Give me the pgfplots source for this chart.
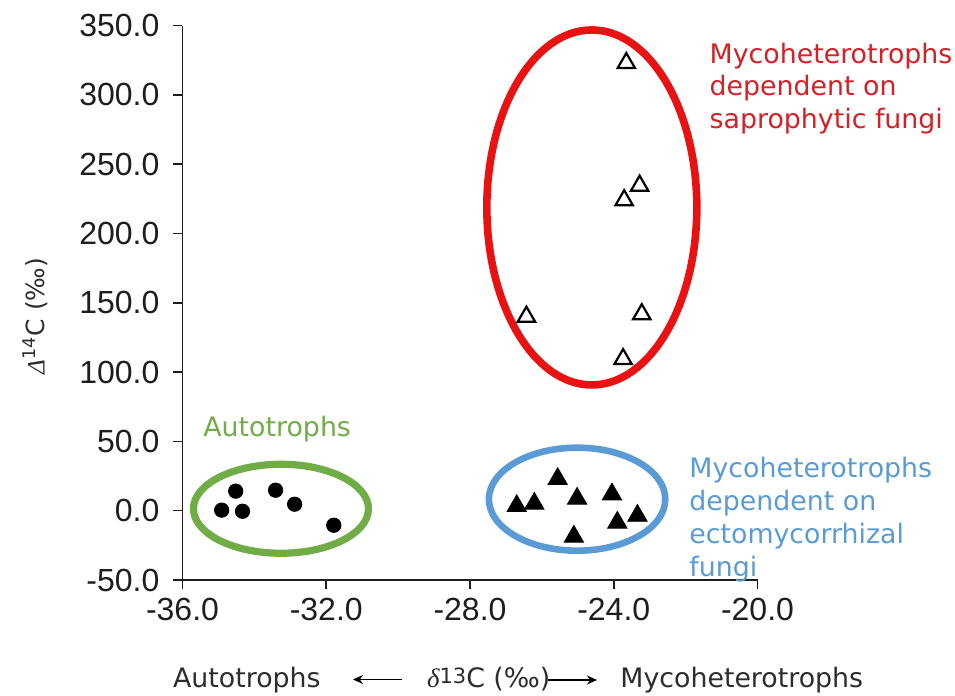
\documentclass[border=0pt]{standalone}
\usepackage{pgfplots}
\pgfplotsset{compat=1.18}
\usepackage{fontspec}
\usetikzlibrary{arrows.meta}
\setmainfont{Liberation Sans}
\newfontfamily\dv{DejaVu Sans}
\newfontfamily\serifit{Liberation Serif}
\definecolor{exred}{RGB}{232,18,18}
\definecolor{exredtext}{RGB}{212,32,38}
\definecolor{exgreen}{RGB}{112,173,71}
\definecolor{exblue}{RGB}{91,155,213}
\definecolor{axgray}{RGB}{30,30,30}
\definecolor{labgray}{RGB}{45,45,45}
\newcommand{\annfont}{\dv\fontsize{13.4}{16}\selectfont}
\begin{document}
\begin{tikzpicture}
\useasboundingbox (-91.25pt,-58pt) rectangle (386.25pt,290pt);
\begin{axis}[
  at={(0pt,0pt)}, anchor=south west,
  scale only axis, width=287.5pt, height=277.2pt,
  xmin=-36, xmax=-20, ymin=-50, ymax=350,
  axis lines=left, axis line style={-, axgray, line width=0.8pt},
  xtick={-36,-32,-28,-24,-20}, ytick={-50,0,50,100,150,200,250,300,350},
  tick align=outside, major tick length=4.5pt,
  tick style={axgray, line width=0.8pt},
  /pgf/number format/assume math mode=true,
  /pgf/number format/fixed, /pgf/number format/fixed zerofill,
  /pgf/number format/precision=1, /pgf/number format/1000 sep={},
  ticklabel style={font=\fontsize{16}{16}\selectfont, text=axgray},
  yticklabel style={xshift=-3.5pt},
  xticklabel style={yshift=-1pt},
  clip=false,
]
% ellipses
\draw[exred, line width=3.8pt] (axis cs:-24.61,218.8) ellipse [x radius=52.5pt, y radius=88.75pt];
\draw[exgreen, line width=3.6pt] (axis cs:-33.26,1.4) ellipse [x radius=43.75pt, y radius=22.25pt];
\draw[exblue, line width=3.3pt] (axis cs:-25.02,8.3) ellipse [x radius=44.1pt, y radius=25.75pt];
% autotrophs
\addplot[only marks, mark=*, mark size=3.6pt, black] coordinates {
 (-34.91,0.4) (-34.52,14.1) (-34.33,-0.4) (-33.41,14.8) (-32.88,4.7) (-31.79,-10.5)
};
% mycoheterotrophs on ectomycorrhizal fungi
\addplot[only marks, mark=triangle*, mark size=5.6pt, black] coordinates {
 (-26.70,3.4) (-26.21,5.1) (-25.56,22.9) (-25.02,8.7) (-24.05,11.8) (-23.90,-8.6) (-23.34,-3.6) (-25.11,-18.7)
};
% mycoheterotrophs on saprophytic fungi
\addplot[only marks, mark=triangle, mark size=5.0pt, mark options={line width=1.1pt}, black] coordinates {
 (-23.65,323.0) (-23.28,234.5) (-23.71,224.0) (-26.43,140.0) (-23.22,141.8) (-23.74,109.4)
};
\end{axis}
% annotations
\begin{scope}[every node/.style={inner sep=0pt, anchor=base west, font=\annfont}]
\node[text=exredtext] at (263.4pt,258.35pt) {Mycoheterotrophs};
\node[text=exredtext] at (263.4pt,242.1pt) {dependent on};
\node[text=exredtext] at (263.4pt,225.85pt) {saprophytic fungi};
\node[text=exblue] at (253.25pt,51pt) {Mycoheterotrophs};
\node[text=exblue] at (253.25pt,34.5pt) {dependent on};
\node[text=exblue] at (253.25pt,18pt) {ectomycorrhizal};
\node[text=exblue] at (253.25pt,1.5pt) {fungi};
\node[text=exgreen] at (10.25pt,71.5pt) {Autotrophs};
\node[text=labgray] at (-4.9pt,-54pt) {Autotrophs};
\node[text=labgray] at (122.1pt,-54pt) {{\serifit\itshape δ}\raisebox{0.3ex}{\fontsize{10.5}{10}\selectfont 13}C (‰)};
\node[text=labgray] at (218.75pt,-54pt) {Mycoheterotrophs};
\end{scope}
\draw[black, line width=0.7pt, -{Stealth[length=5pt,width=4.5pt]}] (109.75pt,-49.75pt) -- (85.25pt,-49.75pt);
\draw[black, line width=0.7pt, -{Stealth[length=5pt,width=4.5pt]}] (182.75pt,-50pt) -- (207.25pt,-50pt);
\node[inner sep=0pt, rotate=90, anchor=center, text=labgray, font=\dv\fontsize{12.5}{14}\selectfont] at (-73.5pt,132pt) {{\serifit\itshape Δ}\textsuperscript{14}C (‰)};
\end{tikzpicture}
\end{document}
